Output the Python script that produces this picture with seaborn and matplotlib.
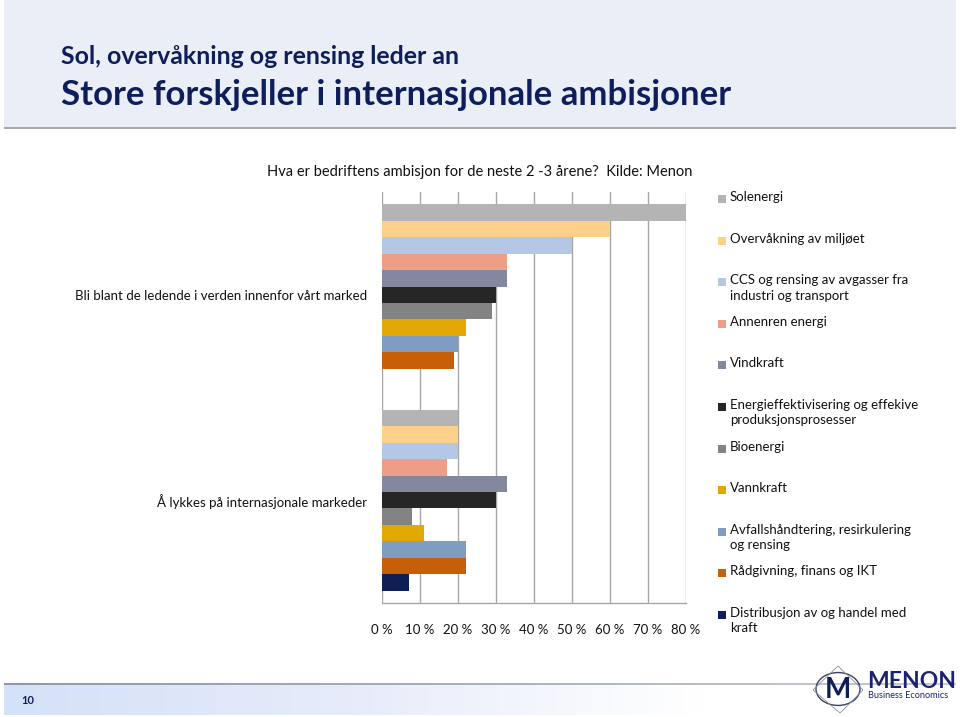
import numpy as np
import pandas as pd
import seaborn as sns
import matplotlib
matplotlib.use("Agg")
import matplotlib.pyplot as plt
from matplotlib.patches import Rectangle, Circle, Polygon
from matplotlib.colors import LinearSegmentedColormap

# ---------------- data ----------------
categories = [
    "Bli blant de ledende i verden innenfor vårt marked",
    "Å lykkes på internasjonale markeder",
]
series = [
    "Solenergi",
    "Overvåkning av miljøet",
    "CCS og rensing av avgasser fra industri og transport",
    "Annenren energi",
    "Vindkraft",
    "Energieffektivisering og effekive produksjonsprosesser",
    "Bioenergi",
    "Vannkraft",
    "Avfallshåndtering, resirkulering og rensing",
    "Rådgivning, finans og IKT",
    "Distribusjon av og handel med kraft",
]
legend_labels = [
    "Solenergi",
    "Overvåkning av miljøet",
    "CCS og rensing av avgasser fra\nindustri og transport",
    "Annenren energi",
    "Vindkraft",
    "Energieffektivisering og effekive\nproduksjonsprosesser",
    "Bioenergi",
    "Vannkraft",
    "Avfallshåndtering, resirkulering\nog rensing",
    "Rådgivning, finans og IKT",
    "Distribusjon av og handel med\nkraft",
]
values_leading = [0.80, 0.60, 0.50, 0.33, 0.33, 0.30, 0.29, 0.22, 0.20, 0.19, 0.00]
values_international = [0.20, 0.20, 0.20, 0.17, 0.33, 0.30, 0.08, 0.11, 0.22, 0.22, 0.07]
colors = ["#B4B4B4", "#FDD08A", "#B4C7E4", "#EC9F86", "#84889E", "#262626",
          "#838383", "#E0A800", "#7F9DC1", "#C65F08", "#0D1F55"]
xtick_values = [0.0, 0.1, 0.2, 0.3, 0.4, 0.5, 0.6, 0.7, 0.8]
xtick_labels = ["0 %", "10 %", "20 %", "30 %", "40 %", "50 %", "60 %", "70 %", "80 %"]

title1 = "Sol, overvåkning og rensing leder an"
title2 = "Store forskjeller i internasjonale ambisjoner"
subtitle = "Hva er bedriftens ambisjon for de neste 2 -3 årene?  Kilde: Menon"

df = pd.DataFrame({
    "category": [categories[0]] * len(series) + [categories[1]] * len(series),
    "series": series + series,
    "value": values_leading + values_international,
})

# ---------------- figure ----------------
sns.set_theme(style="white")
FONT = ["Lato", "DejaVu Sans"]
plt.rcParams["font.family"] = FONT

W, H = 960, 717
fig = plt.figure(figsize=(W / 100, H / 100), dpi=100)
fig.patch.set_facecolor("white")

def fx(px):
    return px / W

def fy(py):
    return 1 - py / H

NAVY = "#0E1E5B"

# title band
fig.add_artist(Rectangle((fx(4), fy(127)), fx(952), 127 / H, transform=fig.transFigure,
                         facecolor="#E9EEF7", edgecolor="none", zorder=0))
fig.add_artist(Rectangle((fx(4), fy(129)), fx(952), 2 / H, transform=fig.transFigure,
                         facecolor="#A8A8A8", edgecolor="none", zorder=0))
fig.text(fx(61), fy(57), title1, fontsize=17.9, fontweight="bold", color=NAVY, va="center", ha="left")
fig.text(fx(61), fy(95), title2, fontsize=25, fontweight="bold", color=NAVY, va="center", ha="left")
fig.text(fx(480), fy(172), subtitle, fontsize=10.5, color="#111111", va="center", ha="center")

# main axes
ax = fig.add_axes([fx(382), fy(603), fx(686) - fx(382), (603 - 192) / H])
sns.barplot(data=df, x="value", y="category", hue="series", hue_order=series,
            order=categories, palette=colors, saturation=1, width=0.883,
            errorbar=None, legend=False, ax=ax, zorder=3)
ax.set_xlim(0, 0.8)
ax.set_ylim(1.5, -0.5)
ax.set_xticks(xtick_values)
ax.set_xticklabels(xtick_labels, fontsize=9.5, color="#111111")
ax.set_yticks(range(len(categories)))
ax.set_yticklabels(categories, fontsize=9.5, color="#111111")
ax.tick_params(axis="x", length=0, pad=15)
ax.tick_params(axis="y", length=0, pad=11)
ax.set_xlabel("")
ax.set_ylabel("")
ax.xaxis.grid(True, color="#A6A6A6", linewidth=1.0, zorder=0)
ax.set_axisbelow(True)
for s in ["top", "right", "left"]:
    ax.spines[s].set_visible(False)
ax.spines["bottom"].set_color("#A6A6A6")
ax.spines["bottom"].set_linewidth(1.0)
ax.set_facecolor("none")
for p in ax.patches:
    p.set_edgecolor("none")

# legend (manual Excel-like layout)
for i, (lab, col) in enumerate(zip(legend_labels, colors)):
    yc = 199 + 41.6 * i
    fig.add_artist(Rectangle((fx(718), fy(yc + 4)), fx(8), 8 / H, transform=fig.transFigure,
                             facecolor=col, edgecolor="none"))
    fig.text(fx(730), fy(yc - 8), lab, fontsize=9.5, color="#111111", va="top", ha="left",
             linespacing=1.35)

# footer
grad = np.linspace(0, 1, 256)[None, :]
fax = fig.add_axes([fx(4), fy(715), fx(700), 30 / H])
cmap = LinearSegmentedColormap.from_list("f", ["#D5E1F8", "#E6ECFA", "#FFFFFF"])
fax.imshow(grad, aspect="auto", cmap=cmap, extent=[0, 1, 0, 1])
fax.axis("off")
lax = fig.add_axes([fx(4), fy(685), fx(952), 2 / H])
cmap2 = LinearSegmentedColormap.from_list("g", ["#8D98AC", "#A9B0BE", "#C8CCD4"])
lax.imshow(grad, aspect="auto", cmap=cmap2, extent=[0, 1, 0, 1])
lax.axis("off")
fig.text(fx(21), fy(700), "10", fontsize=8, fontweight="bold", color=NAVY, va="center", ha="left")

# logo
fig.add_artist(Circle((fx(838), fy(689)), 22 / W, transform=fig.transFigure,
                      facecolor="none", edgecolor="#3A4068", linewidth=1.0))
fig.add_artist(Polygon([(fx(813), fy(690)), (fx(838), fy(666)), (fx(863), fy(690)), (fx(840), fy(713))],
                       closed=True, transform=fig.transFigure, facecolor="none",
                       edgecolor="#8A90A0", linewidth=0.6))
fig.text(fx(838), fy(690), "M", fontsize=20, fontweight="bold", color=NAVY, ha="center", va="center")
fig.text(fx(867), fy(688), "MENON", fontsize=16.5, fontweight="bold", color="#1C2270",
         ha="left", va="baseline")
fig.text(fx(868), fy(691), "Business Economics", fontsize=6.6, color="#1C2270", ha="left", va="top")

fig.savefig("out.png", dpi=100)
